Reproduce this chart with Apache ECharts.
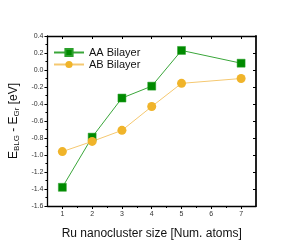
<!DOCTYPE html>
<html><head><meta charset="utf-8">
<script src="https://cdn.jsdelivr.net/npm/echarts@6/dist/echarts.min.js"></script>
<style>html,body{margin:0;padding:0;background:#fff}#c{width:290px;height:251px}</style>
</head><body><div id="c"></div>
<script>
const sizes = [1, 2, 3, 4, 5, 7];
const aaBilayer = [-1.38, -0.79, -0.33, -0.19, 0.23, 0.08];
const abBilayer = [-0.96, -0.84, -0.71, -0.43, -0.157, -0.10];
const xTicks = [1, 2, 3, 4, 5, 6, 7];
const xMinorTicks = [1.5, 2.5, 3.5, 4.5, 5.5, 6.5];
const seriesNames = ['AA Bilayer', 'AB Bilayer'];

const chart = echarts.init(document.getElementById('c'));
const F = 'Liberation Sans, Arial, sans-serif';
const axisLine = {show: true, onZero: false, lineStyle: {color: '#000', width: 1.3}};
chart.setOption({
  animation: false,
  grid: {left: 44, right: 34, top: 36, bottom: 45},
  legend: {
    left: 48, top: 42, orient: 'vertical', itemWidth: 30, itemHeight: 9, itemGap: 1,
    textStyle: {fontFamily: F, fontSize: 11, color: '#111'},
    data: seriesNames
  },
  xAxis: [{
    type: 'value', min: 0.5, max: 7.5, position: 'bottom',
    name: 'Ru nanocluster size [Num. atoms]', nameLocation: 'middle', nameGap: 22,
    nameTextStyle: {fontFamily: F, fontSize: 12, color: '#111'},
    axisLine: axisLine,
    axisTick: {show: true, inside: false, length: 3, customValues: xTicks, lineStyle: {color: '#000'}},
    axisLabel: {fontFamily: F, fontSize: 7, color: '#333', margin: 5, customValues: xTicks,
      formatter: v => String(v)},
    splitLine: {show: false}
  }, {
    type: 'value', min: 0.5, max: 7.5, position: 'top',
    axisLine: axisLine,
    axisTick: {show: true, inside: true, length: 3, customValues: xTicks, lineStyle: {color: '#000'}},
    axisLabel: {show: false}, splitLine: {show: false}
  }, {
    type: 'value', min: 0.5, max: 7.5, position: 'bottom',
    axisLine: {show: false, onZero: false},
    axisTick: {show: true, inside: false, length: 2, customValues: xMinorTicks, lineStyle: {color: '#000'}},
    axisLabel: {show: false}, splitLine: {show: false}
  }],
  yAxis: [{
    type: 'value', min: -1.6, max: 0.4, interval: 0.2, position: 'left',
    name: 'E{sub|BLG} - E{sub|Gr} [eV]', nameLocation: 'middle', nameGap: 24,
    nameTextStyle: {fontFamily: F, fontSize: 12, color: '#111',
      rich: {sub: {fontFamily: F, fontSize: 8, color: '#111', padding: [5, 0, 0, 0]}}},
    axisLine: axisLine,
    axisTick: {show: true, inside: false, length: 3, lineStyle: {color: '#000'}},
    minorTick: {show: true, splitNumber: 2, length: 2, lineStyle: {color: '#000'}},
    axisLabel: {fontFamily: F, fontSize: 7, color: '#333', margin: 4,
      formatter: v => v.toFixed(1)},
    splitLine: {show: false}
  }, {
    type: 'value', min: -1.6, max: 0.4, interval: 0.2, position: 'right',
    axisLine: {show: true, onZero: false, lineStyle: {color: '#222', width: 2}},
    axisTick: {show: true, inside: true, length: 3, lineStyle: {color: '#000'}},
    axisLabel: {show: false}, splitLine: {show: false}
  }],
  series: [{
    name: seriesNames[0], type: 'line',
    data: sizes.map((s, i) => [s, aaBilayer[i]]),
    symbol: 'rect', symbolSize: 8,
    itemStyle: {color: '#008a00', borderColor: '#2aa02a', borderWidth: 0.5},
    lineStyle: {color: '#3aa63a', width: 1}
  }, {
    name: seriesNames[1], type: 'line',
    data: sizes.map((s, i) => [s, abBilayer[i]]),
    symbol: 'circle', symbolSize: 9,
    itemStyle: {color: '#f0b42a'},
    lineStyle: {color: '#f5c870', width: 1}
  }]
});
</script></body></html>
